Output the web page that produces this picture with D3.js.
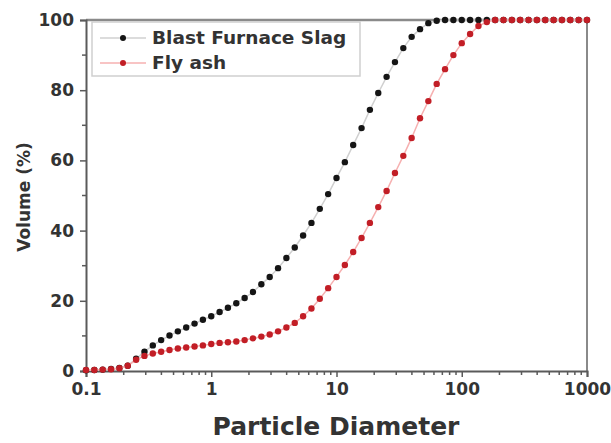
<!DOCTYPE html>
<html>
<head>
<meta charset="utf-8">
<script src="https://cdnjs.cloudflare.com/ajax/libs/d3/7.8.5/d3.min.js"></script>
<style>
body { margin: 0; background: #fff; }
svg text { font-family: "DejaVu Sans", sans-serif; font-weight: bold; }
</style>
</head>
<body>
<div class="graph"></div>
<script>
// particle size classes (um)
var sizes = [0.1, 0.1166, 0.1359, 0.1585, 0.1848, 0.2154, 0.2512, 0.2929, 0.3415, 0.3981,
  0.4642, 0.5412, 0.631, 0.7356, 0.8577, 1, 1.166, 1.359, 1.585, 1.848,
  2.154, 2.512, 2.929, 3.415, 3.981, 4.642, 5.412, 6.31, 7.356, 8.577,
  10, 11.66, 13.59, 15.85, 18.48, 21.54, 25.12, 29.29, 34.15, 39.81,
  46.42, 54.12, 63.1, 73.56, 85.77, 100, 116.6, 135.9, 158.5, 184.8,
  215.4, 251.2, 292.9, 341.5, 398.1, 464.2, 541.2, 631, 735.6, 857.7, 1000];

var slag = [0.2, 0.3, 0.4, 0.6, 0.9, 1.5, 3.5, 5.5, 7.3, 8.8,
  10.1, 11.3, 12.4, 13.5, 14.6, 15.6, 16.8, 18.0, 19.3, 20.8,
  22.5, 24.7, 26.8, 29.3, 32.2, 35.2, 38.6, 42.2, 46.2, 50.4,
  55.0, 59.5, 64.4, 69.2, 74.4, 79.2, 83.8, 88.0, 92.0, 95.2,
  97.4, 99.1, 99.8, 100, 100, 100, 100, 100, 100, 100,
  100, 100, 100, 100, 100, 100, 100, 100, 100, 100, 100];

var flyAsh = [0.3, 0.3, 0.4, 0.5, 0.8, 1.5, 3.2, 4.3, 5.0, 5.5,
  6.0, 6.4, 6.7, 7.0, 7.3, 7.7, 8.0, 8.2, 8.4, 8.8,
  9.3, 9.8, 10.4, 11.3, 12.4, 13.7, 15.6, 17.8, 20.6, 23.6,
  26.8, 30.2, 33.9, 37.9, 42.2, 46.7, 51.3, 56.4, 61.3, 66.4,
  72.0, 76.9, 81.8, 86.0, 90.0, 93.4, 96.0, 98.3, 99.4, 100,
  100, 100, 100, 100, 100, 100, 100, 100, 100, 100, 100];

var seriesNames = ["Blast Furnace Slag", "Fly ash"];
var xTicks = [0.1, 1, 10, 100, 1000];
var xTickLabels = ["0.1", "1", "10", "100", "1000"];
var yTicks = [0, 20, 40, 60, 80, 100];
var yMinor = [10, 30, 50, 70, 90];

var width = 611, height = 443;
var plotL = 86, plotR = 587, plotT = 20, plotB = 371;

var svg = d3.select(".graph").append("svg").attr("width", width).attr("height", height);

var x = d3.scaleLog().domain([0.1, 1000]).range([plotL, plotR]);
var y = d3.scaleLinear().domain([0, 100]).range([plotB, plotT]);

// minor log ticks 2..9 in each decade
var xMinor = [];
for (var dec = 0.1; dec < 1000; dec *= 10) {
  for (var m = 2; m < 10; m++) xMinor.push(Math.round(dec * m * 1000) / 1000);
}

var axisColor = "#5a5a5a";

// frame (top / right)
svg.append("line").attr("x1", plotL).attr("x2", plotR).attr("y1", plotT).attr("y2", plotT)
  .style("stroke", "#8a8a8a").style("stroke-width", 2.5);
svg.append("line").attr("x1", plotR).attr("x2", plotR).attr("y1", plotT).attr("y2", plotB)
  .style("stroke", "#8a8a8a").style("stroke-width", 2);

// x axis
var xAxis = svg.append("g").attr("transform", "translate(0," + plotB + ")")
  .call(d3.axisBottom(x).tickValues(xTicks).tickSize(6).tickFormat(function (d, i) { return xTickLabels[i]; }));
xAxis.append("g").selectAll("line").data(xMinor).enter().append("line")
  .attr("x1", function (d) { return x(d); }).attr("x2", function (d) { return x(d); })
  .attr("y1", 0).attr("y2", 4);
// y axis
var yAxis = svg.append("g").attr("transform", "translate(" + plotL + ",0)")
  .call(d3.axisLeft(y).tickValues(yTicks).tickSize(6));
yAxis.append("g").selectAll("line").data(yMinor).enter().append("line")
  .attr("y1", function (d) { return y(d); }).attr("y2", function (d) { return y(d); })
  .attr("x1", 0).attr("x2", -4);

svg.selectAll(".domain").style("stroke", axisColor).style("stroke-width", 2);
svg.selectAll(".tick line").style("stroke", axisColor).style("stroke-width", 1.5);
xAxis.selectAll("g > line").style("stroke", axisColor).style("stroke-width", 1.5);
yAxis.selectAll("g > line").style("stroke", axisColor).style("stroke-width", 1.5);
svg.selectAll(".tick text").style("font-size", "17px").style("fill", "#333")
  .style("font-family", "DejaVu Sans").style("font-weight", "bold");
xAxis.selectAll(".tick text").attr("y", 12);
yAxis.selectAll(".tick text").attr("x", -12);

// series
var series = [
  { name: seriesNames[0], values: slag, dot: "#151515", line: "#d0d0d0" },
  { name: seriesNames[1], values: flyAsh, dot: "#c21e26", line: "#f6b0b0" }
];
var line = d3.line().x(function (d) { return x(d[0]); }).y(function (d) { return y(d[1]); });

series.forEach(function (s) {
  var pts = sizes.map(function (v, i) { return [v, s.values[i]]; });
  svg.append("path").datum(pts).attr("d", line)
    .style("fill", "none").style("stroke", s.line).style("stroke-width", 1.5);
  svg.append("g").selectAll("circle").data(pts).enter().append("circle")
    .attr("cx", function (d) { return x(d[0]); })
    .attr("cy", function (d) { return y(d[1]); })
    .attr("r", 3.2).style("fill", s.dot);
});

// legend
svg.append("rect").attr("x", 92).attr("y", 22).attr("width", 268).attr("height", 54)
  .style("fill", "#fff").style("stroke", "#cfcfcf").style("stroke-width", 1.5);
series.forEach(function (s, i) {
  var ly = 38 + i * 25;
  svg.append("line").attr("x1", 100).attr("x2", 146).attr("y1", ly).attr("y2", ly)
    .style("stroke", s.line).style("stroke-width", 1.5);
  svg.append("circle").attr("cx", 123).attr("cy", ly).attr("r", 3).style("fill", s.dot);
  svg.append("text").attr("x", 152).attr("y", ly + 6).text(s.name)
    .style("font-size", "18.5px").style("fill", "#333");
});

// axis titles
svg.append("text").attr("x", 336).attr("y", 435).attr("text-anchor", "middle")
  .text("Particle Diameter").style("font-size", "25px").style("fill", "#333");
svg.append("text").attr("transform", "translate(30,197) rotate(-90)").attr("text-anchor", "middle")
  .text("Volume (%)").style("font-size", "17px").style("fill", "#333");
</script>
</body>
</html>
